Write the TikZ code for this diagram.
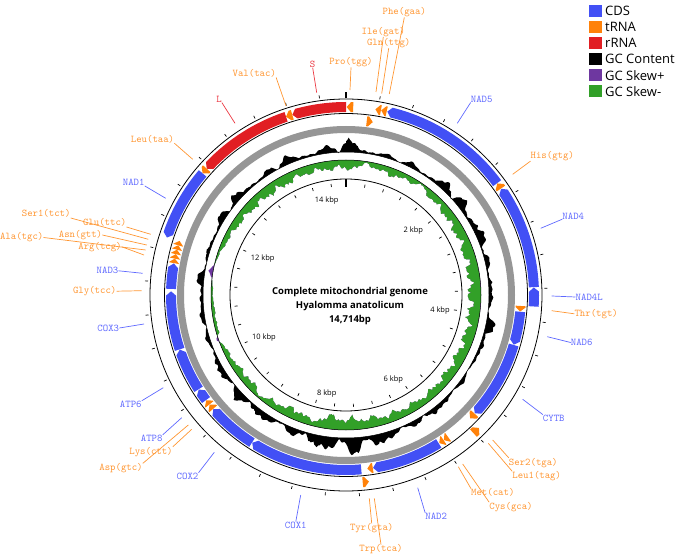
\documentclass[tikz,border=0pt]{standalone}
\usepackage{fontspec}
\setsansfont{Open Sans}
\definecolor{cds}{RGB}{66,80,245}
\definecolor{trna}{RGB}{255,130,10}
\definecolor{rrna}{RGB}{225,30,35}
\definecolor{skp}{RGB}{110,55,160}
\definecolor{skn}{RGB}{50,160,40}
\definecolor{ringgrey}{RGB}{150,150,150}
\definecolor{lblue}{RGB}{95,105,255}
\definecolor{lorange}{RGB}{255,150,50}
\definecolor{lred}{RGB}{235,55,65}
% forward strand feature: inner annulus, tip at end angle
\newcommand\fwdfeat[3]{%
  \pgfmathsetmacro\hd{min(1.4,#2-#1)}%
  \fill[#3] ({#1-90}:170) arc[start angle=#1-90,end angle=#2-\hd-90,radius=170] -- ({#2-90}:175) -- ({#2-\hd-90}:180) arc[start angle=#2-\hd-90,end angle=#1-90,radius=180] -- cycle;}
% reverse strand feature: outer annulus, tip at start angle
\newcommand\revfeat[3]{%
  \pgfmathsetmacro\hd{min(1.3,#2-#1)}%
  \fill[#3] ({#1-90}:188) -- ({#1+\hd-90}:183) arc[start angle=#1+\hd-90,end angle=#2-90,radius=183] -- ({#2-90}:193) arc[start angle=#2-90,end angle=#1+\hd-90,radius=193] -- cycle;}
\def\gcA{{15,8,3,5,3,6,4,3,8,12,12,6,8,10,8,6,3,6,5,3,8,10,6,3,2,4,3,5,6,8,6,4,8,12,15,16,17,15,16,12,8,5,6,10,8,10,8,6,8,5,3,5,6,4,6,8,5,3,4,3,6,8,10,6,4,3,8,10,6,4,6,10,15,15}}
\def\skA{{10,9,4,8,9,8,6,4,8,9,10,11,12,12,13,13,14,14,15,14,13,13,12,12,12,11,11,10,9,9,10,10,10,11,12,13,14,15,14,6,13,11,10,8,4,8,10,8,7,5,2,3,4,3,3,1,0.5,1,4,6,8,9,10,11,11,12,12,11,10,10,10,10,10,10}}
\begin{document}
\begin{tikzpicture}[x=1pt,y=-1pt,
  glab/.style={font=\ttfamily\fontsize{10.3}{12}\selectfont, inner sep=0pt},
  blab/.style={glab,text=lblue},
  olab/.style={glab,text=lorange},
  rlab/.style={glab,text=lred},
  bline/.style={draw=lblue,line width=0.7pt},
  oline/.style={draw=lorange,line width=0.7pt},
  rline/.style={draw=lred,line width=0.7pt},
  ring/.style={draw=black,line width=0.8pt},
  thinring/.style={draw=black,line width=0.5pt},
  legsq/.style={minimum size=12.4pt, inner sep=0pt},
  legtx/.style={font=\sffamily\fontsize{13}{15}\selectfont, anchor=west, inner sep=0pt},
  rulerlab/.style={font=\sffamily\fontsize{7.5}{9}\selectfont, inner sep=0pt},
  titlelab/.style={font=\sffamily\bfseries\fontsize{9.5}{13.8}\selectfont, align=center, inner sep=0pt},
  tickmark/.style={line width=0.7pt},
  zerotick/.style={line width=1.6pt}]
\useasboundingbox (0,0) rectangle (678,556);
\pgfmathsetseed{4711}
% ---- data tracks ----
\def\gcpath{}
\foreach \i in {0,...,720}{%
  \pgfmathsetmacro\gT{\i/2}%
  \pgfmathtruncatemacro\gK{\i/10}%
  \pgfmathsetmacro\gF{\i/10-\gK}%
  \pgfmathsetmacro\gE{\gcA[\gK]*(1-\gF)+\gcA[\gK+1]*\gF}%
  \pgfmathsetmacro\gN{0.55+0.28*sin(29*\gT)+0.2*sin(43*\gT+40)+0.12*sin(360*frac(0.31*\gT))+0.12*(rnd-0.5)}%
  \pgfmathsetmacro\gR{143+\gE*\gN}%
  \pgfmathsetmacro\gA{\gT-90}%
  \xdef\gcpath{\gcpath(\gA:\gR)--}%
}
\def\skpath{}
\foreach \i in {0,...,720}{%
  \pgfmathsetmacro\gT{\i/2}%
  \pgfmathtruncatemacro\gK{\i/10}%
  \pgfmathsetmacro\gF{\i/10-\gK}%
  \pgfmathsetmacro\gE{\skA[\gK]*(1-\gF)+\skA[\gK+1]*\gF}%
  \pgfmathsetmacro\gN{0.74+0.16*sin(37*\gT+20)+0.12*sin(360*frac(0.21*\gT))+0.08*sin(360*frac(0.47*\gT))+0.14*(rnd-0.5)}%
  \pgfmathsetmacro\gP{(0.7+0.3*rnd)*(3*max(0,1-abs(\gT-9)/1.5)+3*max(0,1-abs(\gT-34)/2)+2.5*max(0,1-abs(\gT-196)/2)+2*max(0,1-abs(\gT-221)/1.5)+4*max(0,1-abs(\gT-251)/2.5)+5*max(0,1-abs(\gT-280)/4))}%
  \pgfmathsetmacro\gR{135-\gE*\gN+\gP}%
  \pgfmathsetmacro\gA{\gT-90}%
  \xdef\skpath{\skpath(\gA:\gR)--}%
}
\begin{scope}[shift={(346,295)}]
  \fill[black, even odd rule] \gcpath cycle (0,0) circle[radius=143];
  \fill[skp, even odd rule] \skpath cycle (0,0) circle[radius=135];
  \begin{scope}
    \clip (0,0) circle[radius=135];
    \fill[skn, even odd rule] \skpath cycle (0,0) circle[radius=135];
  \end{scope}
  \draw[thinring] (0,0) circle[radius=143];
  \draw[thinring] (0,0) circle[radius=135];
  \draw[ring] (0,0) circle[radius=116];
  \draw[ringgrey, line width=7pt] (0,0) circle[radius=165.5];
  \draw[ring] (0,0) circle[radius=181.5];
  \draw[ring] (0,0) circle[radius=196];
  % ticks
  \foreach \k in {1,...,36}{%
    \draw[tickmark] ({\k*9.7866-90}:198.5) -- ({\k*9.7866-90}:201.5);
    \draw[tickmark] ({\k*9.7866-90}:109) -- ({\k*9.7866-90}:112);
  }
  \draw[zerotick] (-90:196.5) -- (-90:203);
  \draw[zerotick] (-90:108) -- (-90:115.5);
  % reverse strand (outer annulus)
  \revfeat{-16.6}{0}{rrna}
  \revfeat{-18.6}{-16.6}{trna}
  \revfeat{-47.8}{-18.6}{rrna}
  \revfeat{-49.7}{-47.8}{trna}
  \revfeat{-72.2}{-49.7}{cds}
  \revfeat{0.2}{2.2}{trna}
  \revfeat{9.0}{10.7}{trna}
  \revfeat{10.8}{12.5}{trna}
  \revfeat{12.7}{53.5}{cds}
  \revfeat{53.6}{55.5}{trna}
  \revfeat{55.6}{87.6}{cds}
  \revfeat{87.7}{93.5}{cds}
  \revfeat{135.0}{137.3}{trna}
  \revfeat{173.0}{174.9}{trna}
  % forward strand (inner annulus)
  \fwdfeat{6.8}{8.8}{trna}
  \fwdfeat{93.6}{95.4}{trna}
  \fwdfeat{95.5}{106.5}{cds}
  \fwdfeat{106.6}{132.6}{cds}
  \fwdfeat{132.7}{134.8}{trna}
  \fwdfeat{144.3}{146.0}{trna}
  \fwdfeat{146.1}{147.8}{trna}
  \fwdfeat{148.0}{171.1}{cds}
  \fwdfeat{171.2}{173.0}{trna}
  \fwdfeat{175.0}{212.4}{cds}
  \fwdfeat{212.5}{229.3}{cds}
  \fwdfeat{229.4}{231.2}{trna}
  \fwdfeat{231.3}{233.0}{trna}
  \fwdfeat{233.1}{237.3}{cds}
  \fwdfeat{237.4}{251.8}{cds}
  \fwdfeat{251.9}{271.2}{cds}
  \fwdfeat{272.0}{280.4}{cds}
  \fwdfeat{280.5}{282.0}{trna}
  \fwdfeat{282.0}{283.5}{trna}
  \fwdfeat{283.5}{285.0}{trna}
  \fwdfeat{285.0}{286.5}{trna}
  \fwdfeat{286.5}{288.0}{trna}
\end{scope}
% ---- ruler labels and title ----
\node[rulerlab] (k14) at (326.7,200.7) {14 kbp};
\node[rulerlab] (k2) at (413.3,230.7) {2 kbp};
\node[rulerlab] (k4) at (440,310.7) {4 kbp};
\node[rulerlab] (k6) at (393.3,380) {6 kbp};
\node[rulerlab] (k8) at (326.7,393.3) {8 kbp};
\node[rulerlab] (k10) at (264,337.3) {10 kbp};
\node[rulerlab] (k12) at (262.7,258.3) {12 kbp};
\node[titlelab] (title) at (350,306) {Complete mitochondrial genome\\Hyalomma anatolicum\\14,714bp};
% ---- gene labels ----
\node[olab] (lPhe) at (404.3,12.5) {Phe(gaa)};
\node[olab] (lIle) at (383.3,32) {Ile(gat)};
\node[olab] (lGln) at (388.7,43.3) {Gln(ttg)};
\node[olab] (lPro) at (351,62.5) {Pro(tgg)};
\node[rlab] (lS) at (312.7,64.3) {S};
\node[olab] (lVal) at (254.3,73.3) {Val(tac)};
\node[rlab] (lL) at (219,99.3) {L};
\node[olab] (lLeu) at (152.5,139) {Leu(taa)};
\node[blab] (lNADa) at (133.7,182.5) {NAD1};
\node[olab] (lSera) at (46.2,213.8) {Ser1(tct)};
\node[olab] (lGlu) at (104.7,222.8) {Glu(ttc)};
\node[olab] (lAsn) at (80.5,235) {Asn(gtt)};
\node[olab] (lAla) at (21.7,237.5) {Ala(tgc)};
\node[olab] (lArg) at (100,246.8) {Arg(tcg)};
\node[blab] (lNADc) at (107.5,270.8) {NAD3};
\node[olab] (lGly) at (94.7,291.2) {Gly(tcc)};
\node[blab] (lCOXc) at (108.3,328) {COX3};
\node[blab] (lATPf) at (130.8,404.2) {ATP6};
\node[blab] (lATPe) at (151.7,438.3) {ATP8};
\node[olab] (lLys) at (151,451.7) {Lys(ctt)};
\node[olab] (lAsp) at (121,468.3) {Asp(gtc)};
\node[blab] (lCOXb) at (187.5,476.2) {COX2};
\node[blab] (lCOXa) at (295.8,525) {COX1};
\node[olab] (lTyr) at (371.7,528.3) {Tyr(gta)};
\node[olab] (lTrp) at (381,549.5) {Trp(tca)};
\node[blab] (lNADb) at (436.2,516.3) {NAD2};
\node[olab] (lMet) at (492.8,492.8) {Met(cat)};
\node[olab] (lCys) at (511,507.2) {Cys(gca)};
\node[olab] (lSerb) at (533.3,462.8) {Ser2(tga)};
\node[olab] (lLeub) at (536.7,476.2) {Leu1(tag)};
\node[blab] (lCYTB) at (553.8,418) {CYTB};
\node[blab] (lNADf) at (581.7,342.5) {NAD6};
\node[olab] (lThr) at (596.2,313.8) {Thr(tgt)};
\node[blab] (lNADdl) at (589.2,297) {NAD4L};
\node[blab] (lNADd) at (573.3,215.8) {NAD4};
\node[olab] (lHis) at (552.3,156.2) {His(gtg)};
\node[blab] (lNADe) at (481.7,99) {NAD5};
% ---- label pointer ends ----
\coordinate (pPhe) at (389.3,94);
\coordinate (pIle) at (376,92);
\coordinate (pGln) at (381.7,93.5);
\coordinate (pPro) at (350,90);
\coordinate (pS) at (316.7,92.7);
\coordinate (pVal) at (286,106);
\coordinate (pL) at (235,123.3);
\coordinate (pLeu) at (192.7,159.3);
\coordinate (pNADa) at (165.7,198.3);
\coordinate (pSera) at (148.3,239.3);
\coordinate (pGlu) at (150.7,234.3);
\coordinate (pAsn) at (146.7,245);
\coordinate (pAla) at (145.7,250);
\coordinate (pArg) at (144,255);
\coordinate (pNADc) at (142.7,273.3);
\coordinate (pGly) at (141.7,290.7);
\coordinate (pCOXc) at (144,324);
\coordinate (pATPf) at (163.3,387.7);
\coordinate (pATPe) at (181.7,417.7);
\coordinate (pLys) at (191.7,429.3);
\coordinate (pAsp) at (188.3,425);
\coordinate (pCOXb) at (214.3,452.3);
\coordinate (pCOXa) at (300.7,495);
\coordinate (pTyr) at (369.3,498.3);
\coordinate (pTrp) at (374.3,498.3);
\coordinate (pNADb) at (417.7,487.7);
\coordinate (pMet) at (458.3,466.7);
\coordinate (pCys) at (462.7,464);
\coordinate (pSerb) at (492.7,440);
\coordinate (pLeub) at (488.3,443.3);
\coordinate (pCYTB) at (522.7,399.3);
\coordinate (pNADf) at (547.3,336.7);
\coordinate (pThr) at (551.7,310.7);
\coordinate (pNADdl) at (551.7,296);
\coordinate (pNADd) at (540.7,228.3);
\coordinate (pHis) at (512.7,174.3);
\coordinate (pNADe) at (457.3,123.3);
% ---- connectors ----
\draw[oline] (lPhe.south) -- (pPhe);
\draw[oline] (lIle.south) -- (pIle);
\draw[oline] (lGln.south) -- (pGln);
\draw[oline] (lPro.south) -- (pPro);
\draw[rline] (lS.south) -- (pS);
\draw[oline] (lVal.south east) -- (pVal);
\draw[rline] (lL.south east) -- (pL);
\draw[oline] (lLeu.south east) -- (pLeu);
\draw[bline] (lNADa.south east) -- (pNADa);
\draw[oline] (lSera.south east) -- (pSera);
\draw[oline] (lGlu.south east) -- (pGlu);
\draw[oline] (lAsn.east) -- (pAsn);
\draw[oline] (lAla.east) -- (pAla);
\draw[oline] (lArg.east) -- (pArg);
\draw[bline] (lNADc.east) -- (pNADc);
\draw[oline] (lGly.east) -- (pGly);
\draw[bline] (lCOXc.east) -- (pCOXc);
\draw[bline] (lATPf.north east) -- (pATPf);
\draw[bline] (lATPe.north east) -- (pATPe);
\draw[oline] (lLys.north east) -- (pLys);
\draw[oline] (lAsp.north east) -- (pAsp);
\draw[bline] (lCOXb.north east) -- (pCOXb);
\draw[bline] (lCOXa.north) -- (pCOXa);
\draw[oline] (lTyr.north) -- (pTyr);
\draw[oline] (lTrp.north) -- (pTrp);
\draw[bline] (lNADb.north west) -- (pNADb);
\draw[oline] (lMet.north west) -- (pMet);
\draw[oline] (lCys.north west) -- (pCys);
\draw[oline] (lSerb.north west) -- (pSerb);
\draw[oline] (lLeub.north west) -- (pLeub);
\draw[bline] (lCYTB.north west) -- (pCYTB);
\draw[bline] (lNADf.west) -- (pNADf);
\draw[oline] (lThr.west) -- (pThr);
\draw[bline] (lNADdl.west) -- (pNADdl);
\draw[bline] (lNADd.south west) -- (pNADd);
\draw[oline] (lHis.south west) -- (pHis);
\draw[bline] (lNADe.south west) -- (pNADe);
% ---- legend ----
\node[legsq, fill=cds] (sqa) at (595.5,10.8) {};
\node[legsq, fill=trna] (sqb) at (595.5,26.9) {};
\node[legsq, fill=rrna] (sqc) at (595.5,43.0) {};
\node[legsq, fill=black] (sqd) at (595.5,59.1) {};
\node[legsq, fill=skp] (sqe) at (595.5,75.2) {};
\node[legsq, fill=skn] (sqf) at (595.5,91.3) {};
\node[legtx] (txa) at (605,10.8) {CDS};
\node[legtx] (txb) at (605,26.9) {tRNA};
\node[legtx] (txc) at (605,43.0) {rRNA};
\node[legtx] (txd) at (605,59.1) {GC Content};
\node[legtx] (txe) at (605,75.2) {GC Skew+};
\node[legtx] (txf) at (605,91.3) {GC Skew-};
\end{tikzpicture}
\end{document}
